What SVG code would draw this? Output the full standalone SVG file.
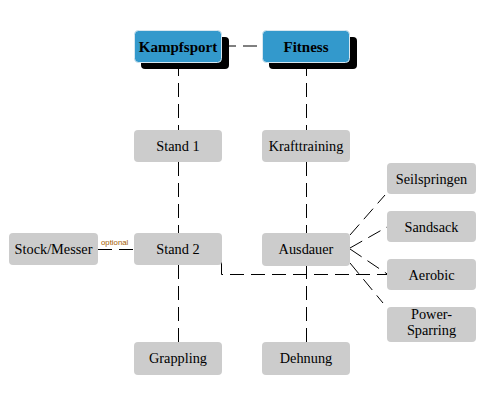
<svg xmlns="http://www.w3.org/2000/svg" width="485" height="405" viewBox="0 0 485 405">
<style>
.c{fill:none;stroke:#000;stroke-width:1;stroke-dasharray:14 7}
.g{fill:#cccccc}
.b{fill:#3399cc;stroke:#d6e6ef;stroke-width:1}
.s{fill:#000}
.t{font-family:"Liberation Serif","Times New Roman",serif;font-size:14.3px;fill:#000;text-anchor:middle}
.tb{font-family:"Liberation Serif","Times New Roman",serif;font-size:15px;font-weight:bold;fill:#000;text-anchor:middle}
.lbl{font-family:"Liberation Sans",Arial,sans-serif;font-size:7.8px;fill:#a35a00}
</style>
<rect width="485" height="405" fill="#fff"/>
<g id="connectors">
<path class="c" d="M222,46 H262"/>
<path class="c" d="M178.5,62 V130"/>
<path class="c" d="M178.5,162 V233"/>
<path class="c" d="M178.5,265 V342"/>
<path class="c" d="M306.5,62 V130"/>
<path class="c" d="M306.5,162 V233"/>
<path class="c" d="M306.5,265 V342"/>
<path class="c" d="M98,249.5 H134"/>
<path class="c" d="M221.5,262 V274.5 H387"/>
<path class="c" d="M350,235 L385,195"/>
<path class="c" d="M350,248 L387,227"/>
<path class="c" d="M350,249 L388,274.5"/>
<path class="c" d="M350,263 L383,303"/>
<text class="lbl" x="101" y="245">optional</text>
</g>
<g id="kampfsport">
<rect class="s" x="141" y="37" width="88" height="32" rx="4"/>
<rect class="b" x="134.5" y="30.5" width="87" height="32" rx="4"/>
<text class="tb" x="178" y="51.5">Kampfsport</text>
</g>
<g id="fitness">
<rect class="s" x="269" y="37" width="88" height="32" rx="4"/>
<rect class="b" x="262.5" y="30.5" width="87" height="32" rx="4"/>
<text class="tb" x="306" y="51.5">Fitness</text>
</g>
<g id="stand1">
<rect class="g" x="134" y="130" width="88" height="32" rx="4"/>
<text class="t" x="178" y="151">Stand 1</text>
</g>
<g id="krafttraining">
<rect class="g" x="262" y="130" width="88" height="32" rx="4"/>
<text class="t" x="306" y="151">Krafttraining</text>
</g>
<g id="stockmesser">
<rect class="g" x="9" y="233" width="89" height="32" rx="4"/>
<text class="t" x="53.5" y="254">Stock/Messer</text>
</g>
<g id="stand2">
<rect class="g" x="134" y="233" width="88" height="32" rx="4"/>
<text class="t" x="178" y="254">Stand 2</text>
</g>
<g id="ausdauer">
<rect class="g" x="262" y="233" width="88" height="33" rx="4"/>
<text class="t" x="306" y="254">Ausdauer</text>
</g>
<g id="grappling">
<rect class="g" x="134" y="342" width="88" height="33" rx="4"/>
<text class="t" x="178" y="363">Grappling</text>
</g>
<g id="dehnung">
<rect class="g" x="262" y="342" width="88" height="33" rx="4"/>
<text class="t" x="306" y="363">Dehnung</text>
</g>
<g id="seilspringen">
<rect class="g" x="387" y="163" width="89" height="31" rx="4"/>
<text class="t" x="431.5" y="183.5">Seilspringen</text>
</g>
<g id="sandsack">
<rect class="g" x="387" y="211" width="89" height="31" rx="4"/>
<text class="t" x="431.5" y="231.5">Sandsack</text>
</g>
<g id="aerobic">
<rect class="g" x="387" y="259" width="89" height="31" rx="4"/>
<text class="t" x="431.5" y="279.5">Aerobic</text>
</g>
<g id="powersparring">
<rect class="g" x="387" y="307" width="89" height="35" rx="4"/>
<text class="t" x="431.5" y="319">Power-</text>
<text class="t" x="431.5" y="335">Sparring</text>
</g>
</svg>
